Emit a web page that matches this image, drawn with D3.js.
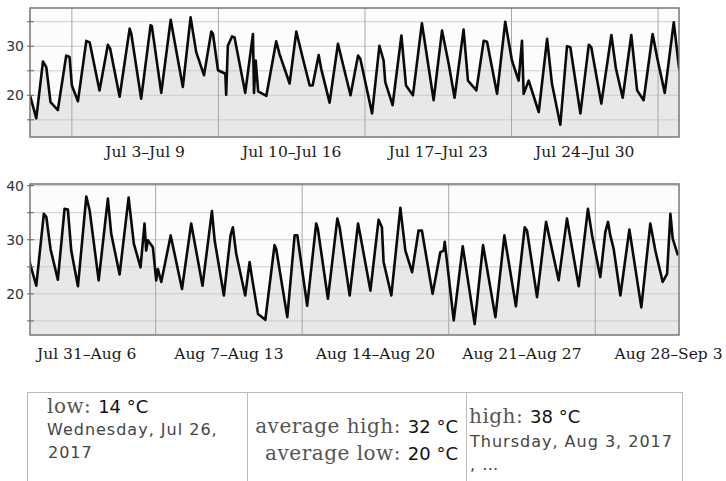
<!DOCTYPE html>
<html><head><meta charset="utf-8">
<script src="https://cdn.jsdelivr.net/npm/d3@7"></script>
<style>body{margin:0;background:#fff}svg{display:block}</style>
</head><body><svg id="c" width="726" height="481"></svg>
<script>
// Hourly-ish temperature trace: days since Jul 1 2017 00:00, and °C
const dayOffset = [
 0,0.3,0.62,0.78,0.98,1.33,1.73,1.89,2.0,2.29,2.69,2.85,3.32,3.72,3.83,4.28,4.76,4.84,5.31,5.76,5.82,6.27,6.72,7.3,7.67,7.94,
 8.31,8.66,8.74,8.98,9.33,9.37,9.45,9.65,9.77,10.28,10.65,10.7,10.78,10.9,11.29,11.76,11.92,12.4,12.72,13.04,13.36,13.5,13.79,13.91,
 14.31,14.71,15.31,15.67,15.78,16.34,16.69,16.89,16.97,17.32,17.74,17.96,18.29,18.72,19.28,19.68,20.0,20.28,20.71,20.92,21.32,21.67,
 21.83,22.31,22.7,23.02,23.34,23.5,23.58,23.82,24.3,24.7,24.93,25.33,25.65,25.81,26.29,26.69,26.81,27.29,27.77,27.99,28.31,28.72,
 29.0,29.31,29.74,29.95,30.32,30.75,
 31.0,31.3,31.66,31.78,31.98,32.33,32.65,32.81,32.97,33.29,33.69,33.85,34.28,34.72,34.88,35.28,35.71,35.96,36.28,36.47,36.55,36.63,
 36.87,37.03,37.11,37.27,37.72,38.26,38.7,39.24,39.69,39.82,40.26,40.58,40.69,40.85,41.28,41.49,41.6,41.89,42.24,42.68,42.76,43.29,
 43.64,43.77,44.24,44.67,44.75,45.23,45.68,45.79,46.27,46.67,46.78,47.26,47.65,47.81,47.89,48.26,48.69,48.93,49.25,49.56,49.72,50.23,
 50.6,50.76,50.81,51.24,51.67,52.24,52.64,53.23,53.66,54.21,54.63,54.74,55.22,55.65,56.25,56.65,57.21,57.65,57.85,58.24,58.48,58.61,
 58.72,58.88,59.2,59.63,60.2,60.63,60.87,61.22,61.43,61.59,61.7,61.95
];
const tempC = [
 20,15.3,26.9,25.7,18.6,17,28.1,27.8,22,18.8,31.1,30.8,21,30.3,29.5,19.7,33.6,32.5,19.3,34.3,34.1,20.5,35.4,21.7,35.9,28.8,
 24.1,33,32.5,25.1,24.4,20.1,30.1,32,31.8,20.5,32.5,20.5,27.1,20.8,19.9,31,28.4,22.4,33,27.4,22,22,28.2,25.4,
 18.5,30.5,20,28.1,27.4,16.3,30.1,27.1,22.7,18,32.2,22,20,34.7,19,33.2,26.4,19.5,33.4,23,21,31.1,
 30.9,20.3,35,27.1,23,31.1,20.3,23,16.6,31.5,22.4,14,30,29.8,16.3,30.3,29.8,18.3,32.3,25.4,19.5,32.3,
 21,19,32.5,27.8,20.5,34.9,
 25.6,21.5,34.8,34.2,28.3,22.6,35.7,35.6,28,21.4,38,35.4,22.5,37.6,31.1,23.6,37.8,29.3,24.9,33,28,29.9,
 28.6,22.5,24.6,22.2,30.8,20.9,33,21.5,35.3,29.9,19.7,30.8,32.3,27.4,19.7,25.9,23.1,16.3,15.2,29,28.3,15.7,
 30.8,30.8,17.8,33,32,19.1,33.9,32.3,19.7,33,30.8,20.6,33.7,32.3,25.9,19.7,35.9,28,24,31.7,31.7,20,
 27.7,28,29.6,15.1,28.8,14.4,29,15.7,30.8,17.7,32.3,31.7,19.4,33.3,22.5,33.9,21.4,35.7,30.8,23.1,31.4,33.3,
 30.8,28.3,19.7,31.9,17.5,33,28,22.2,23.7,34.8,30.2,27.1
];
// Week boundaries and their labels
const weekStarts = ["2017-06-26","2017-07-03","2017-07-10","2017-07-17","2017-07-24","2017-07-31","2017-08-07","2017-08-14","2017-08-21","2017-08-28"];
const weekLabels = ["Jun 26–Jul 2","Jul 3–Jul 9","Jul 10–Jul 16","Jul 17–Jul 23","Jul 24–Jul 30","Jul 31–Aug 6","Aug 7–Aug 13","Aug 14–Aug 20","Aug 21–Aug 27","Aug 28–Sep 3"];
// Panel date ranges and y domains
const panelStarts = ["2017-07-01","2017-08-01"];
const panelEnds = ["2017-08-01","2017-09-01"];
const panelYDomains = [[11.5,37.8],[12.4,40.3]];
// Summary
const summaryLow = {value:14, date:"Wednesday, Jul 26,", year:"2017"};
const summaryHigh = {value:38, date:"Thursday, Aug 3, 2017"};
const averageHigh = 32, averageLow = 20;

const parse = d3.timeParse("%Y-%m-%d");
const base = parse("2017-07-01");
const data = dayOffset.map((d,i)=>({t:new Date(base.getTime()+d*864e5), v:tempC[i]}));
const svg = d3.select("#c");

const layout = [{top:8,bottom:137,lab:20},{top:184,bottom:335,lab:24}];
const left = 30, right = 679;

panelStarts.forEach((s,pi)=>{
  const t0 = parse(s), t1 = parse(panelEnds[pi]);
  const {top,bottom,lab} = layout[pi];
  const x = d3.scaleTime().domain([t0,t1]).range([left,right]);
  const y = d3.scaleLinear().domain(panelYDomains[pi]).range([bottom,top]);
  const g = svg.append("g");
  const cid = "clip"+pi;
  svg.append("clipPath").attr("id",cid).append("rect")
    .attr("x",left).attr("y",top).attr("width",right-left).attr("height",bottom-top);
  g.append("rect").attr("x",left).attr("y",top).attr("width",right-left).attr("height",bottom-top).attr("fill","#fcfcfc");
  const cg = g.append("g").attr("clip-path",`url(#${cid})`);
  const area = d3.area().x(d=>x(d.t)).y0(bottom).y1(d=>y(d.v));
  cg.append("path").datum(data).attr("d",area).attr("fill","#e8e8e8");
  const [ymin,ymax] = panelYDomains[pi];
  const fives = d3.range(Math.ceil(ymin/5)*5, ymax+0.001, 5);
  cg.selectAll(".hg").data(fives).join("line")
    .attr("x1",left).attr("x2",right).attr("y1",d=>y(d)).attr("y2",d=>y(d))
    .attr("stroke","#cccccc").attr("stroke-width",1);
  const weeks = weekStarts.map(parse);
  cg.selectAll(".vg").data(weeks.filter(w=>w>t0 && w<t1)).join("line")
    .attr("x1",d=>x(d)).attr("x2",d=>x(d)).attr("y1",top).attr("y2",bottom)
    .attr("stroke","#a8a8a8").attr("stroke-width",1);
  const line = d3.line().x(d=>x(d.t)).y(d=>y(d.v));
  cg.append("path").datum(data).attr("d",line).attr("fill","none")
    .attr("stroke","#0a0a0a").attr("stroke-width",2.6).attr("stroke-linejoin","round");
  g.append("rect").attr("x",left).attr("y",top).attr("width",right-left).attr("height",bottom-top)
    .attr("fill","none").attr("stroke","#777").attr("stroke-width",1.5);
  g.selectAll(".tk").data(fives).join("line")
    .attr("x1",left-3).attr("x2",left+4).attr("y1",d=>y(d)).attr("y2",d=>y(d))
    .attr("stroke","#666").attr("stroke-width",1);
  g.selectAll(".tl").data(fives.filter(d=>d%10===0)).join("text")
    .attr("x",left-6).attr("y",d=>y(d)).attr("dy","0.36em").attr("text-anchor","end")
    .attr("font-family","DejaVu Sans").attr("font-size",14).attr("fill","#333").text(d=>d);
  weeks.forEach((w,wi)=>{
    const mid = new Date(w.getTime()+3.5*864e5);
    if(mid<=t0 || mid>=t1) return;
    const tx = g.append("text").attr("y",bottom+lab).attr("text-anchor","middle")
      .attr("font-family","DejaVu Serif").attr("font-size",15.5).attr("fill","#1a1a1a").text(weekLabels[wi]);
    const w2 = tx.node().getComputedTextLength()/2;
    tx.attr("x", Math.max(x(mid), left+7+w2));
  });
});

// Summary table
const tb = svg.append("g");
tb.append("rect").attr("x",27.5).attr("y",392.5).attr("width",655).attr("height",120)
  .attr("fill","#fff").attr("stroke","#bbb");
[247.5,466.5].forEach(xx=>tb.append("line").attr("x1",xx).attr("x2",xx).attr("y1",392.5).attr("y2",481).attr("stroke","#bbb"));
function labelVal(x,y,label,val,anchor){
  const t = tb.append("text").attr("x",x).attr("y",y).attr("text-anchor",anchor||"start");
  t.append("tspan").attr("font-family","DejaVu Serif").attr("font-size",20).attr("letter-spacing",0.5).attr("fill","#555").text(label+" ");
  t.append("tspan").attr("font-family","DejaVu Sans").attr("font-size",18).attr("fill","#111").text(val+" °C");
}
const small = (x,y,s)=>tb.append("text").attr("x",x).attr("y",y).attr("font-family","DejaVu Sans")
  .attr("font-size",16).attr("letter-spacing",1).attr("fill","#444").text(s);
labelVal(47,413,"low:",summaryLow.value);
small(47,435,summaryLow.date);
small(48,458,summaryLow.year);
labelVal(458,433,"average high:",averageHigh,"end");
labelVal(458,460,"average low:",averageLow,"end");
labelVal(469,423,"high:",summaryHigh.value);
small(470,447,summaryHigh.date);
small(470,470,", …");
</script></body></html>
